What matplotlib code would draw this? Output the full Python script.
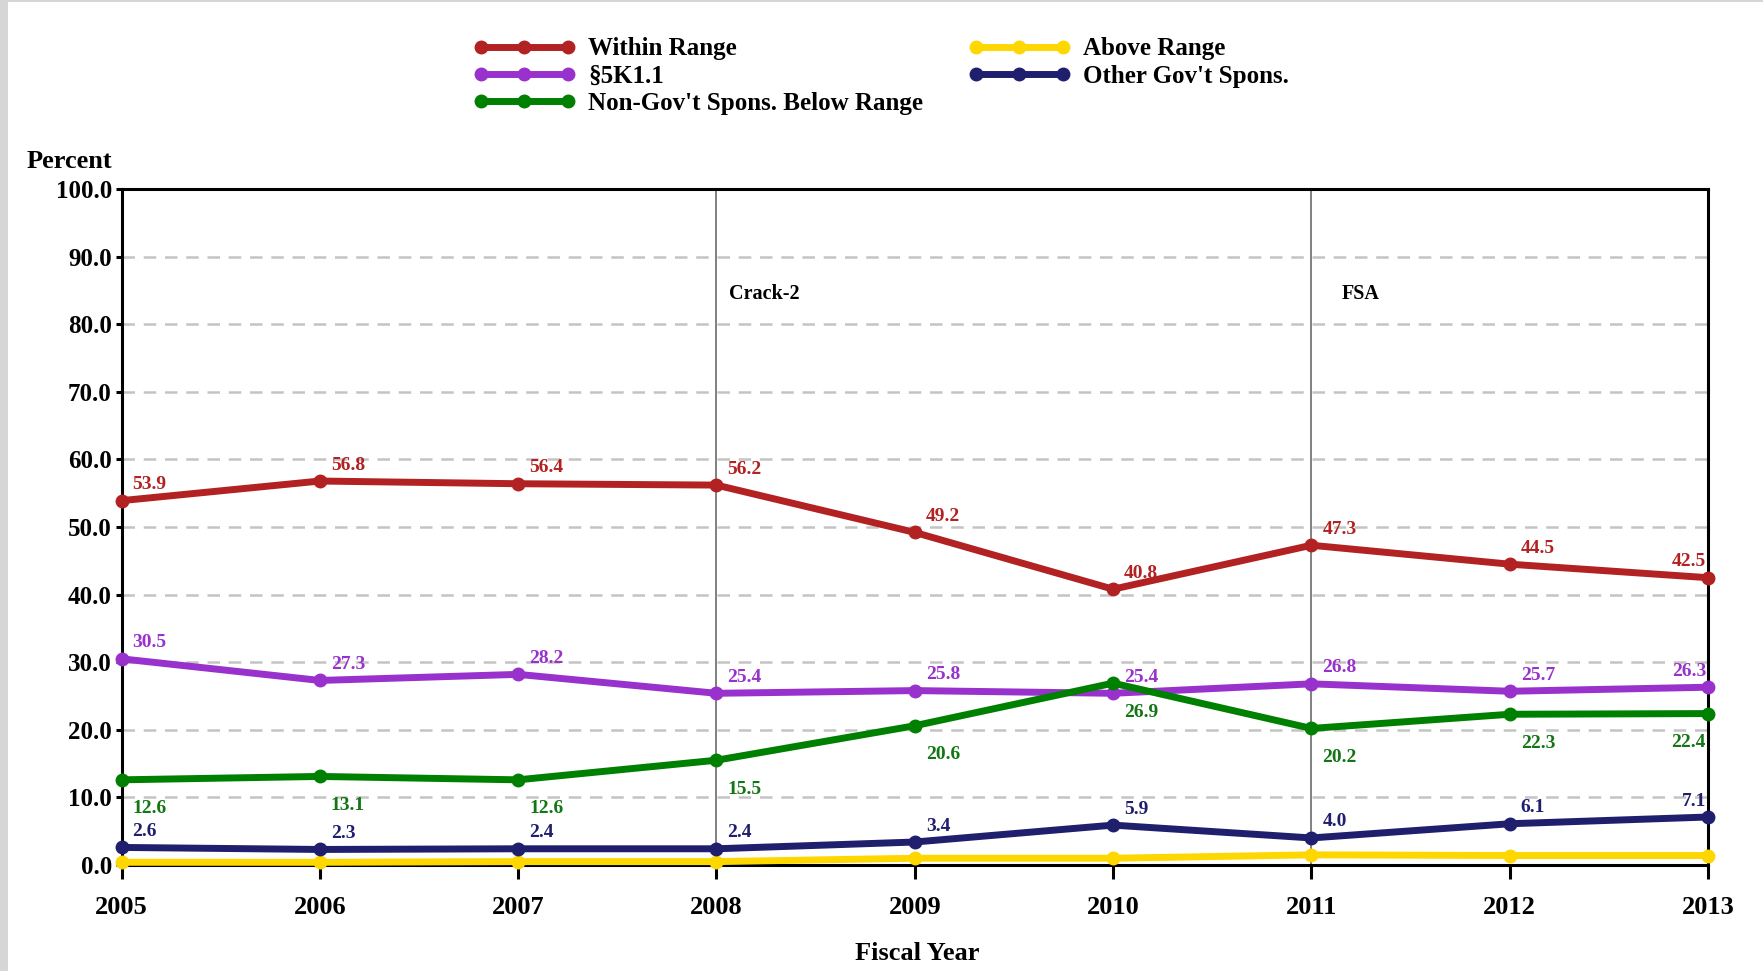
import matplotlib
matplotlib.use("Agg")
import matplotlib.pyplot as plt
from matplotlib.patches import Rectangle

years = [2005, 2006, 2007, 2008, 2009, 2010, 2011, 2012, 2013]
within_range = [53.9, 56.8, 56.4, 56.2, 49.2, 40.8, 47.3, 44.5, 42.5]
sec_5k11 = [30.5, 27.3, 28.2, 25.4, 25.8, 25.4, 26.8, 25.7, 26.3]
nongov_below = [12.6, 13.1, 12.6, 15.5, 20.6, 26.9, 20.2, 22.3, 22.4]
above_range = [0.4, 0.4, 0.5, 0.5, 1.0, 1.0, 1.5, 1.4, 1.4]
other_gov = [2.6, 2.3, 2.4, 2.4, 3.4, 5.9, 4.0, 6.1, 7.1]
y_ticks = [0, 10, 20, 30, 40, 50, 60, 70, 80, 90, 100]
event_years = [2008, 2011]
event_labels = ["Crack-2", "FSA"]

SERIF = ["Liberation Serif", "DejaVu Serif"]
plt.rcParams["font.family"] = SERIF
plt.rcParams["font.weight"] = "bold"

fig = plt.figure(figsize=(17.63, 9.71), dpi=100)
fig.patches.append(Rectangle((0, 0), 8 / 1763, 1, transform=fig.transFigure,
                             facecolor="#d6d6d6", edgecolor="none", zorder=0))
fig.patches.append(Rectangle((0, 1 - 2 / 971), 1, 2 / 971, transform=fig.transFigure,
                             facecolor="#d6d6d6", edgecolor="none", zorder=0))

ax = fig.add_axes([121.5 / 1763, 1 - 865 / 971, (1708 - 121.5) / 1763, (865 - 189) / 971])

series = [
    ("Within Range", within_range, "#B22222", "#B22222", "above"),
    ("\u00a75K1.1", sec_5k11, "#9932CC", "#9932CC", "above"),
    ("Non-Gov't Spons. Below Range", nongov_below, "#008000", "#137513", "below"),
    ("Above Range", above_range, "#FFD700", None, None),
    ("Other Gov't Spons.", other_gov, "#1F1F6E", "#1F1F6E", "above"),
]

for i, (name, vals, col, lcol, pos) in enumerate(series):
    ax.plot(years, vals, color=col, lw=5, marker="o", ms=9, label=name,
            clip_on=False, zorder=3 + i)
    if lcol is None:
        continue
    for k, (x, v) in enumerate(zip(years, vals)):
        last = (k == len(years) - 1)
        dx = -2 if last else 11
        ha = "right" if last else "left"
        dy = 16 if pos == "above" else -29
        ax.annotate(f"{v:.1f}", (x, v), xytext=(dx, dy), textcoords="offset pixels",
                    ha=ha, va="center", fontsize=14, color=lcol, fontweight="bold",
                    zorder=10)

event_dx = [13, 30]
for x, txt, dx in zip(event_years, event_labels, event_dx):
    ax.axvline(x, color="#808080", lw=1.4, zorder=2)
    ax.annotate(txt, (x, 84.5), xytext=(dx, 0), textcoords="offset pixels",
                ha="left", va="center", fontsize=14.5, fontweight="bold")

for yv in y_ticks[1:-1]:
    ax.axhline(yv, color="#c4c4c4", lw=1.8, ls=(0, (5, 3.5)), zorder=1)

ax.set_xlim(2005, 2013)
ax.set_ylim(0, 100)
ax.set_yticks(y_ticks)
ax.set_yticklabels([f"{v:.1f}" for v in y_ticks])
ax.set_xticks(years)
ax.set_xticklabels([str(y) for y in years])
ax.tick_params(axis="y", direction="out", width=2.2, length=4, labelsize=18, pad=3)
ax.tick_params(axis="x", direction="out", width=2.2, length=10, labelsize=19, pad=12)
for lab in ax.get_xticklabels() + ax.get_yticklabels():
    lab.set_fontweight("bold")
for s in ax.spines.values():
    s.set_linewidth(2.2)
    s.set_color("black")

fig.text(27 / 1763, 1 - 161 / 971, "Percent", ha="left", va="center",
         fontsize=19, fontweight="bold")
fig.text(917 / 1763, 1 - 953 / 971, "Fiscal Year", ha="center", va="center",
         fontsize=19, fontweight="bold")

handles, labels = ax.get_legend_handles_labels()
leg = fig.legend(handles, labels, loc="upper left", bbox_to_anchor=(0.257, 0.982),
                 ncol=2, frameon=False, numpoints=3, handlelength=4.1,
                 handletextpad=0.5, columnspacing=1.8, labelspacing=0.17,
                 borderpad=0.3,
                 prop={"family": SERIF, "weight": "bold", "size": 18})

fig.savefig("out.png", dpi=100, facecolor="white")
